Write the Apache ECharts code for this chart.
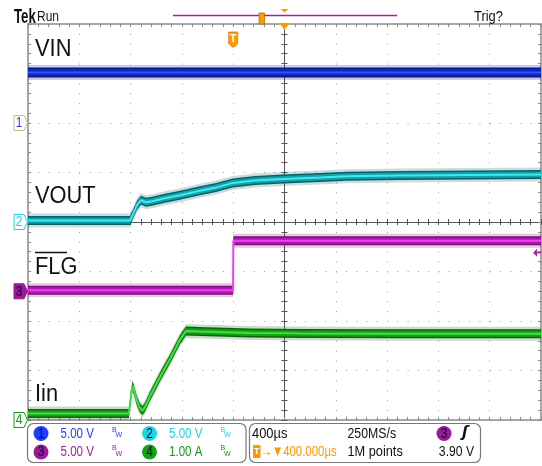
<!DOCTYPE html>
<html>
<head>
<meta charset="utf-8">
<script src="https://cdn.jsdelivr.net/npm/echarts@6/dist/echarts.min.js"></script>
<style>
html, body { margin: 0; padding: 0; background: #fff; }
#chart { width: 542px; height: 466px; }
</style>
</head>
<body>
<div id="chart"></div>
<script>
// Horizontal: microseconds relative to the screen centre, 400 µs per division
const timeMin = -2000, timeMax = 2000, timeDiv = 400;
// Vertical: graticule divisions
const divMin = -4, divMax = 4, divStep = 1;

// Channel 1 – input voltage (V)
const vinTime  = [-2000, 2000];
const vinVolts = [5.1, 5.1];

// Channel 2 – output voltage (V)
const voutTime  = [-2000, -1205, -1181, -1150, -1119, -1080, -1033, -932, -815, -659, -542, -402, -230, -12, 277, 487, 900, 1446, 2000];
const voutVolts = [0.15, 0.15, 0.8, 1.7, 2.2, 2.0, 2.1, 2.4, 2.7, 3.15, 3.45, 3.95, 4.2, 4.35, 4.5, 4.62, 4.7, 4.75, 4.8];

// Channel 3 – FLG output (V)
const flgTime  = [-2000, -401, -399, 2000];
const flgVolts = [0.1, 0.1, 5.1, 5.1];

// Channel 4 – input current (A)
const iinTime = [-2000, -1213, -1197, -1185, -1173, -1150, -1127, -1107, -1088, -1049, -971, -893, -815, -768, -659, -269, 121, 900, 2000];
const iinAmps = [0.13, 0.13, 0.5, 0.69, 0.59, 0.38, 0.24, 0.19, 0.26, 0.48, 0.87, 1.23, 1.62, 1.8, 1.79, 1.76, 1.75, 1.74, 1.74];

// Vertical settings per channel: position (divisions) and units per division
const channelNumbers = ['1', '2', '3', '4'];
const channelOffsets = [2, 0, -1.4, -4];
const channelScales  = [5, 5, 5, 1];
const traceLabels    = ['VIN', 'VOUT', 'FLG', 'Iin'];
const scaleLabels    = ['5.00 V', '5.00 V', '5.00 V', '1.00 A'];

// Acquisition / trigger readouts
const timebaseLabel   = '400µs';
const sampleRateLabel = '250MS/s';
const delayLabel      = '→▼400.000µs';
const recordLabel     = '1M points';
const triggerChannel  = 2;          // index of channel 3
const triggerLevel    = 3.90;
const triggerLevelLabel = '3.90 V';
const triggerTime     = -400;       // trigger point, µs from centre
const expansionTime   = 0;          // expansion point at screen centre

const FONT = '"Liberation Sans", Arial, sans-serif';
const chColors = {
  badge: ['#1f3cff', '#22d3e3', '#9b199b', '#18a018'],
  text:  ['#2b3cf0', '#25d0e0', '#a020a0', '#1a9a1a'],
  dark:  ['#0a1690', '#0a6068', '#7a0f7c', '#0c660c'],
  body:  ['#1026c0', '#13a0a8', '#b019b0', '#16a016'],
  core:  ['#2f52ff', '#40e8f0', '#f040f0', '#40e040']
};

const chart = echarts.init(document.getElementById('chart'));

function toDiv(ch, times, values) {
  return times.map((t, i) => [t, channelOffsets[ch] + values[i] / channelScales[ch]]);
}

// Noise band drawn as a single polygon offset vertically around the trace
function bandSeries(points, halfPx, color, opacity, z) {
  return {
    type: 'custom', coordinateSystem: 'cartesian2d', xAxisIndex: 0, yAxisIndex: 0,
    z: z, silent: true, animation: false, clip: true,
    data: points, encode: { x: 0, y: 1 },
    renderItem: function (params, api) {
      if (params.dataIndex !== 0) return null;
      const px = points.map(p => api.coord(p));
      const upper = px.map(p => [p[0], p[1] - halfPx]);
      const lower = px.map(p => [p[0], p[1] + halfPx]).reverse();
      return { type: 'polygon', shape: { points: upper.concat(lower) }, style: { fill: color, opacity: opacity } };
    }
  };
}

function traceSeries(ch, times, values, body) {
  const pts = toDiv(ch, times, values);
  return [
    bandSeries(pts, body + 2.5, chColors.dark[ch], 0.22, 2),
    bandSeries(pts, body, chColors.dark[ch], 1, 3),
    bandSeries(pts, body - 1.5, chColors.body[ch], 1, 4),
    { type: 'line', xAxisIndex: 0, yAxisIndex: 0, data: pts, symbol: 'none', silent: true, z: 5,
      lineStyle: { color: chColors.core[ch], width: 2 } }
  ];
}

const borderColor = '#8a8a8a', crossColor = '#555', dotColor = '#9a9a9a';

function xAx(pos, onZero, color, split) {
  return {
    type: 'value', min: timeMin, max: timeMax, interval: timeDiv, position: pos,
    axisLine: { show: true, onZero: onZero, onZeroAxisIndex: 0, lineStyle: { color: color, width: onZero ? 1 : 1.5 } },
    axisTick: { show: true, inside: true, length: 3, lineStyle: { color: color } },
    minorTick: { show: true, splitNumber: 5, length: 3, lineStyle: { color: color } },
    axisLabel: { show: false },
    splitLine: { show: split, lineStyle: { color: dotColor, type: [1, 8.9] } },
    minorSplitLine: { show: false }
  };
}
function yAx(pos, onZero, color, split) {
  return {
    type: 'value', min: divMin, max: divMax, interval: divStep, position: pos,
    axisLine: { show: true, onZero: onZero, onZeroAxisIndex: 0, lineStyle: { color: color, width: onZero ? 1 : 1.5 } },
    axisTick: { show: true, inside: true, length: 3, lineStyle: { color: color } },
    minorTick: { show: true, splitNumber: 5, length: 3, lineStyle: { color: color } },
    axisLabel: { show: false },
    splitLine: { show: split, lineStyle: { color: dotColor, type: [1, 9.26] } },
    minorSplitLine: { show: false }
  };
}

chart.setOption({
  animation: false,
  backgroundColor: '#ffffff',
  grid: { left: 28, top: 24, width: 513, height: 396, show: false },
  xAxis: [
    xAx('bottom', false, borderColor, true),
    xAx('top', false, borderColor, false),
    xAx('bottom', true, crossColor, false),
    xAx('top', true, crossColor, false)
  ],
  yAxis: [
    yAx('left', false, borderColor, true),
    yAx('right', false, borderColor, false),
    yAx('left', true, crossColor, false),
    yAx('right', true, crossColor, false)
  ],
  series: [].concat(
    traceSeries(0, vinTime, vinVolts, 5),
    traceSeries(1, voutTime, voutVolts, 4.5),
    traceSeries(2, flgTime, flgVolts, 4.5),
    traceSeries(3, iinTime, iinAmps, 4.5)
  )
});

// Readouts, channel markers and trigger markers
const P = (t, d) => chart.convertToPixel({ xAxisIndex: 0, yAxisIndex: 0 }, [t, d]);
const g = [];
// condensed text: horizontal squeeze around the anchor point
const txt = (x, y, text, size, color, opts, sx) => g.push({
  type: 'text', z: 30, silent: true, x: x, y: y, scaleX: sx == null ? 0.85 : sx,
  style: Object.assign({ x: 0, y: 0, text: text, fill: color, font: size + 'px ' + FONT, verticalAlign: 'middle' }, opts || {})
});

// Header
txt(14, 17, 'Tek', 20, '#111', { font: 'bold 20px ' + FONT }, 0.66);
txt(37, 17, 'Run', 15, '#111', null, 0.8);
txt(474, 17, 'Trig?', 15, '#111', null, 0.86);
g.push({ type: 'line', z: 20, silent: true, shape: { x1: 173, y1: 15.5, x2: 397, y2: 15.5 }, style: { stroke: '#a020a0', lineWidth: 1.5 } });
g.push({ type: 'rect', z: 21, silent: true, shape: { x: 259, y: 13, width: 5.5, height: 11 }, style: { fill: '#ff9a00', stroke: '#c06c00', lineWidth: 0.8 } });
const pc = P(expansionTime, divMax);
g.push({ type: 'polygon', z: 21, silent: true, shape: { points: [[pc[0] - 4, 9], [pc[0] + 4, 9], [pc[0], 12.5]] }, style: { fill: '#ff9a00' } });
g.push({ type: 'polygon', z: 21, silent: true, shape: { points: [[pc[0] - 4.5, pc[1]], [pc[0] + 4.5, pc[1]], [pc[0], pc[1] + 6]] }, style: { fill: '#ff9a00' } });

// Trigger point marker
const pt = P(triggerTime, divMax);
g.push({ type: 'polygon', z: 21, silent: true, shape: { points: [[pt[0] - 4.5, 32], [pt[0] + 4.5, 32], [pt[0] + 4.5, 44], [pt[0], 47.5], [pt[0] - 4.5, 44]] }, style: { fill: '#ff9a00', stroke: '#e08000', lineWidth: 0.8 } });
txt(pt[0], 38.5, 'T', 11, '#ffffff', { align: 'center', font: 'bold 11px ' + FONT }, 1);

// Trace names
const nameY = [50, 197, 268, 395];
traceLabels.forEach((s, i) => txt(35, nameY[i], s, 23, '#111', null, 0.95));
g.push({ type: 'line', z: 20, silent: true, shape: { x1: 35, y1: 252.5, x2: 67, y2: 252.5 }, style: { stroke: '#111', lineWidth: 1.5 } });

// Channel ground markers on the left edge
const markerStroke = ['#c0c080', '#22d3e3', '#9b199b', '#18a018'];
channelOffsets.forEach((off, i) => {
  const p = P(timeMin, off);
  const y = p[1], x0 = p[0] - 0.5;
  g.push({ type: 'polygon', z: 22, silent: true,
    shape: { points: [[x0 - 13.5, y - 7.5], [x0 - 3.5, y - 7.5], [x0, y], [x0 - 3.5, y + 7.5], [x0 - 13.5, y + 7.5]] },
    style: { fill: i === 2 ? chColors.badge[2] : '#ffffff', stroke: markerStroke[i], lineWidth: 1 } });
  txt(x0 - 8.5, y + 0.5, channelNumbers[i], 14, i === 2 ? '#1a001a' : chColors.text[i], { align: 'center' });
});

// Trigger level marker on the right edge
const pl = P(timeMax, channelOffsets[triggerChannel] + triggerLevel / channelScales[triggerChannel]);
g.push({ type: 'polygon', z: 22, silent: true, shape: { points: [[pl[0] - 8, pl[1]], [pl[0] - 4, pl[1] - 4], [pl[0] - 4, pl[1] + 4]] }, style: { fill: '#b020b0' } });
g.push({ type: 'line', z: 22, silent: true, shape: { x1: pl[0] - 5, y1: pl[1], x2: pl[0], y2: pl[1] }, style: { stroke: '#b020b0', lineWidth: 1.5 } });

// Readout boxes
g.push({ type: 'rect', z: 20, silent: true, shape: { x: 27.5, y: 423.5, width: 218.5, height: 39, r: 6 }, style: { fill: '#fff', stroke: '#777', lineWidth: 1.2 } });
g.push({ type: 'rect', z: 20, silent: true, shape: { x: 249.5, y: 423.5, width: 231, height: 39, r: 6 }, style: { fill: '#fff', stroke: '#777', lineWidth: 1.2 } });

const rowY = [433.5, 452];
const colX = [41, 149.5];
[0, 1, 2, 3].forEach(i => {
  const cx = colX[i % 2];
  const cy = rowY[i < 2 ? 0 : 1];
  g.push({ type: 'circle', z: 21, silent: true, shape: { cx: cx, cy: cy, r: 7.5 }, style: { fill: chColors.badge[i] } });
  txt(cx, cy + 0.5, channelNumbers[i], 14, '#101028', { align: 'center' });
  txt(cx + 19.5, cy, scaleLabels[i], 15, chColors.text[i], null, 0.77);
  txt(cx + 71, cy - 3.5, 'B', 7, chColors.text[i], null, 1);
  txt(cx + 74.5, cy + 2, 'W', 7, chColors.text[i], null, 1);
});

txt(252, rowY[0], timebaseLabel, 15, '#111', null, 0.86);
txt(347.5, rowY[0], sampleRateLabel, 15, '#111', null, 0.82);
g.push({ type: 'circle', z: 21, silent: true, shape: { cx: 444, cy: rowY[0], r: 7.5 }, style: { fill: chColors.badge[2] } });
txt(444, rowY[0] + 0.5, channelNumbers[triggerChannel], 14, '#1a001a', { align: 'center' });
txt(465, rowY[0], 'ʃ', 15, '#111', { font: 'bold italic 15px "DejaVu Sans", sans-serif', align: 'center' }, 1);

g.push({ type: 'rect', z: 21, silent: true, shape: { x: 253, y: 445, width: 7.5, height: 13, r: 1 }, style: { fill: '#ff9a00' } });
txt(256.8, rowY[1], 'T', 9, '#ffffff', { align: 'center', font: 'bold 9px ' + FONT }, 1);
txt(260.5, rowY[1], delayLabel, 15, '#ff9900', null, 0.76);
txt(347.5, rowY[1], recordLabel, 15, '#111', null, 0.85);
txt(474, rowY[1], triggerLevelLabel, 15, '#111', { align: 'right' }, 0.81);

chart.setOption({ graphic: g });
</script>
</body>
</html>
